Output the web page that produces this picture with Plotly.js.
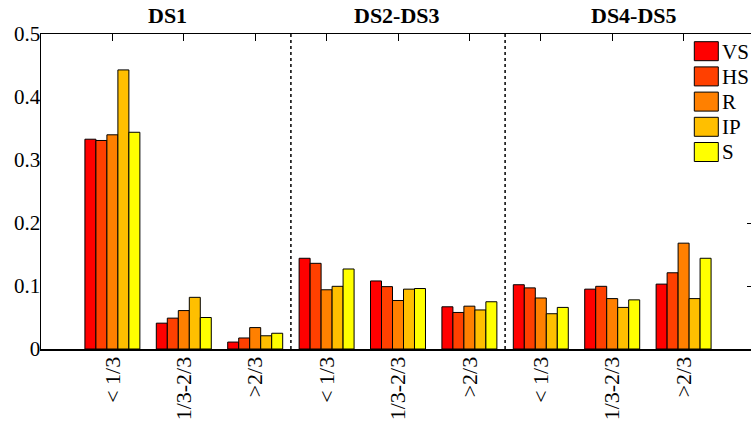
<!DOCTYPE html>
<html>
<head>
<meta charset="utf-8">
<script src="https://cdn.plot.ly/plotly-3.0.1.min.js"></script>
<style>
  html, body { margin: 0; padding: 0; overflow: hidden; background: #fff; }
  #chart { width: 755px; height: 432px; }
</style>
</head>
<body>
<div id="chart"></div>
<script>
// ---- data ----
const sections = ['DS1', 'DS2-DS3', 'DS4-DS5'];
const categories = ['< 1/3', '1/3-2/3', '>2/3', '< 1/3', '1/3-2/3', '>2/3', '< 1/3', '1/3-2/3', '>2/3'];
const seriesNames = ['VS', 'HS', 'R', 'IP', 'S'];
const seriesColors = ['#FF0000', '#FF4000', '#FF8000', '#FFBF00', '#FFFF00'];
const VS = [0.333, 0.041, 0.011, 0.144, 0.108, 0.067, 0.102, 0.095, 0.103];
const HS = [0.331, 0.049, 0.0175, 0.136, 0.099, 0.058, 0.097, 0.0995, 0.121];
const R  = [0.340, 0.061, 0.034, 0.094, 0.077, 0.068, 0.081, 0.080, 0.168];
const IP = [0.443, 0.082, 0.021, 0.0995, 0.095, 0.062, 0.056, 0.066, 0.080];
const S  = [0.344, 0.050, 0.025, 0.127, 0.096, 0.075, 0.066, 0.078, 0.144];
const yTicks = [0, 0.1, 0.2, 0.3, 0.4, 0.5];
const yTickText = ['0', '0.1', '0.2', '0.3', '0.4', '0.5'];

const seriesValues = [VS, HS, R, IP, S];
const xPos = categories.map((_, i) => i + 1);
const FONT = 'Liberation Serif';

const traces = seriesNames.map((name, k) => ({
  type: 'bar',
  name: name,
  x: xPos,
  y: seriesValues[k],
  marker: { color: seriesColors[k], line: { color: '#000', width: 1 } },
  showlegend: false,
  hoverinfo: 'none'
}));
// empty trace to anchor the mirrored axes
traces.push({ type: 'scatter', x: [], y: [], xaxis: 'x2', yaxis: 'y2', showlegend: false });

const perSection = categories.length / sections.length;
const shapes = [];
// dotted separators between sections
for (let s = 1; s < sections.length; s++) {
  const xs = s * perSection + 0.5;
  shapes.push({ type: 'line', xref: 'x', yref: 'paper', x0: xs, x1: xs, y0: 0, y1: 1,
    line: { color: '#000', width: 1.5, dash: 'dot' } });
}

// pixel helpers for legend / titles
const L = 41, T = 34, B = 83, W = 755, H = 432;
const pw = W - L, ph = H - T - B;
const px = v => (v - L) / pw;
const py = v => (H - B - v) / ph;

// legend background
shapes.push({ type: 'rect', xref: 'paper', yref: 'paper', layer: 'above',
  x0: px(688), x1: px(760), y0: py(168), y1: py(36),
  fillcolor: '#fff', line: { width: 0 } });

const annotations = [];
seriesNames.forEach((name, k) => {
  const top = 41.7 + 25.2 * k;
  shapes.push({ type: 'rect', xref: 'paper', yref: 'paper', layer: 'above',
    x0: px(694.3), x1: px(718.3), y0: py(top + 19), y1: py(top),
    fillcolor: seriesColors[k], line: { color: '#000', width: 1 } });
  annotations.push({ xref: 'paper', yref: 'paper', x: px(720), y: py(top + 9.8),
    xanchor: 'left', yanchor: 'middle', showarrow: false, text: name,
    font: { family: FONT, size: 21, color: '#000' } });
});

// section titles
const titleX = [167.5, 397, 633.5];
sections.forEach((name, s) => {
  annotations.push({ xref: 'paper', yref: 'paper', x: px(titleX[s]), y: py(15.5),
    xanchor: 'center', yanchor: 'middle', showarrow: false, text: '<b>' + name + '</b>',
    font: { family: FONT, size: 22, color: '#000' } });
});

const layout = {
  width: W, height: H,
  margin: { l: L, r: 0, t: T, b: B, pad: 0 },
  paper_bgcolor: '#fff', plot_bgcolor: '#fff',
  barmode: 'group', bargap: 0.23, bargroupgap: 0,
  font: { family: FONT, size: 21, color: '#000' },
  xaxis: {
    range: [0, 10], tickvals: xPos, ticktext: categories, tickangle: -90,
    showline: true, linecolor: '#000', linewidth: 2, ticks: '',
    showgrid: false, zeroline: false, fixedrange: true, ticklabelstandoff: -3,
    tickfont: { family: FONT, size: 22, color: '#000' }
  },
  xaxis2: {
    overlaying: 'x', side: 'top', range: [0, 10], tickvals: xPos,
    showticklabels: false, ticks: 'inside', ticklen: 7, tickcolor: '#000', tickwidth: 1,
    showline: true, linecolor: '#000', linewidth: 1.2, showgrid: false, zeroline: false
  },
  yaxis: {
    range: [0, 0.5], tickvals: yTicks, ticktext: yTickText, ticks: '',
    showline: true, linecolor: '#000', linewidth: 1.5,
    showgrid: false, zeroline: false, ticklabelstandoff: -5,
    tickfont: { family: FONT, size: 21, color: '#000' }
  },
  yaxis2: {
    overlaying: 'y', side: 'right', range: [0, 0.5], tickvals: yTicks,
    showticklabels: false, ticks: 'inside', ticklen: 8, tickcolor: '#000', tickwidth: 1,
    showline: true, linecolor: '#000', linewidth: 1, showgrid: false, zeroline: false
  },
  shapes: shapes,
  annotations: annotations
};

Plotly.newPlot('chart', traces, layout, { staticPlot: true, displayModeBar: false });
</script>
</body>
</html>
